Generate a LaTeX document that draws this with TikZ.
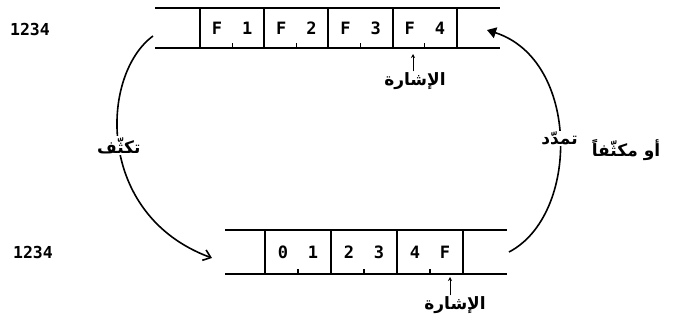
\documentclass[tikz,border=0pt]{standalone}
\usepackage{fontspec}
\usetikzlibrary{
    positioning,    % For relative node placement (right=of, etc.)
    arrows.meta     % For arrow tip styles like Stealth
}
\TeXXeTstate=1
\newfontfamily\arabicfont[Script=Arabic]{DejaVu Sans}
\newfontfamily\cellfont{DejaVu Sans Mono}

\begin{document}
\begin{tikzpicture}[
    x=1pt, y=-1pt, % pixel-like units, y downwards
    % Styles
    cell/.style={ % Style for one register cell
        rectangle,
        draw,
        line width=2pt,
        minimum width=64.25pt,
        minimum height=40pt,
        inner sep=0pt,
        outer sep=0pt,
        font=\cellfont\bfseries\fontsize{17}{17}\selectfont
    },
    rowline/.style={ % Horizontal borders of a row
        line width=1.6pt
    },
    arc/.style={
        line width=1.6pt
    },
    pointer/.style={
        -{Stealth[length=4pt,width=4pt]}, line width=1pt
    },
    arabic_text/.style={ % Style for Arabic labels
        font=\arabicfont\bfseries\fontsize{17}{19}\selectfont,
        inner sep=1pt
    },
    num_text/.style={
        font=\cellfont\bfseries\fontsize{16.5}{16.5}\selectfont
    }
]
\useasboundingbox (0,0) rectangle (679,326);

% --- Top row ---
\draw[rowline] (155,8) -- (500,8);
\draw[rowline] (155,48) -- (500,48);
\node[cell] (t1) at (232.1,28) {F\hspace{20pt}1};
\node[cell] (t2) [right=0pt of t1] {F\hspace{20pt}2};
\node[cell] (t3) [right=0pt of t2] {F\hspace{20pt}3};
\node[cell] (t4) [right=0pt of t3] {F\hspace{20pt}4};
\foreach \c in {t1,t2,t3,t4} {
    \draw[line width=1.2pt] (\c.south) -- ++(0,-5);
}
\node[num_text] (n1) at (30,29) {1234};
% Pointer
\node[arabic_text] (sig1) at (415,81) {\beginR الإشارة\endR};
\coordinate (p1) at (413,54);
\draw[pointer] (sig1.north -| p1) -- (p1);

% --- Bottom row ---
\draw[rowline] (225,230) -- (507,230);
\draw[rowline] (225,274) -- (507,274);
\node[cell, minimum width=66pt, minimum height=44pt] (b1) at (298,252) {0\hspace{20pt}1};
\node[cell, minimum width=66pt, minimum height=44pt] (b2) [right=0pt of b1] {2\hspace{20pt}3};
\node[cell, minimum width=66pt, minimum height=44pt] (b3) [right=0pt of b2] {4\hspace{20pt}F};
\foreach \c in {b1,b2,b3} {
    \draw[line width=1.2pt] (\c.south) -- ++(0,-5);
}
\node[num_text] (n2) at (33,252) {1234};
% Pointer
\node[arabic_text] (sig2) at (455,305) {\beginR الإشارة\endR};
\coordinate (p2) at (450,277);
\draw[pointer] (sig2.north -| p2) -- (p2);

% --- Arcs between the rows ---
\coordinate (lstart) at (153,36);
\coordinate (lend) at (212,258);
\draw[arc, -{Straight Barb[length=7pt,width=11pt]}] (lstart)
    .. controls (100,75) and (95,215) ..
    node[pos=0.5, arabic_text, fill=white] (shrink) {\beginR تكثّف\endR} (lend);

\coordinate (rstart) at (509,252);
\coordinate (rend) at (487,30);
\draw[arc, -{Triangle[length=9pt,width=11pt]}] (rstart)
    .. controls (580,215) and (580,60) ..
    node[pos=0.5, arabic_text, fill=white] (grow) {\beginR تمدّد\endR} (rend);

\node[arabic_text] (alt) at (626,150) {\beginR أو مكثّفاً\endR};

\end{tikzpicture}
\end{document}
